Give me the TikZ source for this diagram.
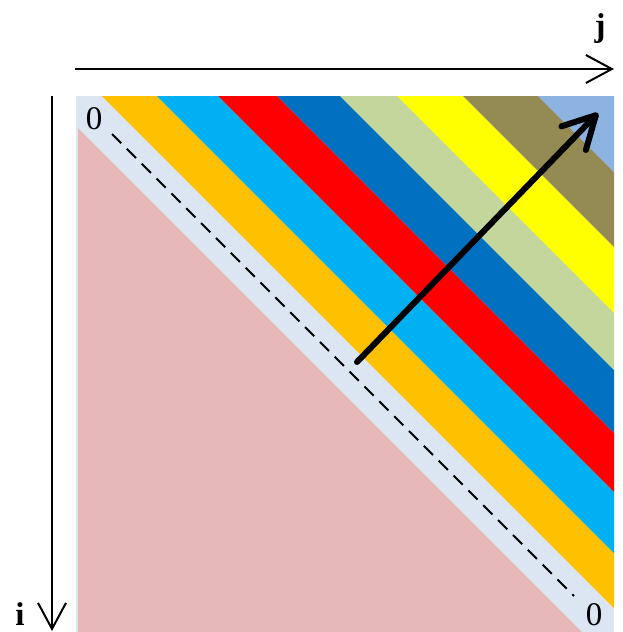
\documentclass[tikz,border=0pt]{standalone}
\usepackage{fontspec}
\setmainfont{Liberation Serif}
\usetikzlibrary{arrows.meta}
\definecolor{DiagBack}{HTML}{DCE6F2}
\definecolor{DiagPink}{HTML}{E6B9B8}
\definecolor{DiagOrange}{HTML}{FFC000}
\definecolor{DiagCyan}{HTML}{00B0F0}
\definecolor{DiagRed}{HTML}{FF0000}
\definecolor{DiagBlue}{HTML}{0070C0}
\definecolor{DiagGreen}{HTML}{C3D69B}
\definecolor{DiagYellow}{HTML}{FFFF00}
\definecolor{DiagOlive}{HTML}{948A54}
\definecolor{DiagSky}{HTML}{8DB3E2}

\begin{document}
\begin{tikzpicture}[
    x=1pt, y=-1pt,
    axis/.style={draw=black, line width=2pt, -{Straight Barb[length=26pt, width=28pt]}},
    sweep/.style={draw=black, line width=6pt, line cap=round, -{Straight Barb[length=32pt, width=34pt, round]}},
    zeroline/.style={draw=black, line width=1.8pt, dash pattern=on 13pt off 8pt},
    lbl/.style={font=\fontsize{33}{36}\selectfont, inner sep=0pt},
    idx/.style={lbl, font=\fontsize{33}{36}\selectfont\bfseries}
]
\useasboundingbox (0,0) rectangle (623,632);

\fill[DiagBack] (76,96) rectangle (614,634);
\begin{scope}
    \clip (76,96) rectangle (614,634);
    \foreach \da/\db/\col in {26/81/DiagOrange, 81/142/DiagCyan, 142/201/DiagRed,
            201/264/DiagBlue, 264/321/DiagGreen, 321/387/DiagYellow,
            387/462/DiagOlive, 462/620/DiagSky}
        \fill[\col] (76+\da,96) -- (76+\db,96) -- (614+\db,634) -- (614+\da,634) -- cycle;
\end{scope}
\fill[DiagPink] (78,128) -- (78,634) -- (584,634) -- cycle;

\coordinate (diag start) at (112,134);
\coordinate (diag end) at (574,596);
\draw[zeroline] (diag start) -- (diag end);

\coordinate (j start) at (75,69);
\coordinate (j end) at (614,69);
\coordinate (i start) at (52,96);
\coordinate (i end) at (52,631);
\draw[axis] (j start) -- (j end);
\draw[axis] (i start) -- (i end);

\coordinate (sweep start) at (357,362);
\coordinate (sweep end) at (598,113);
\draw[sweep] (sweep start) -- (sweep end);

\node[lbl] (zero top) at (94,119) {0};
\node[lbl] (zero bottom) at (594,615) {0};
\node[idx] (j label) at (600,29) {j};
\node[idx] (i label) at (20,614) {i};
\end{tikzpicture}
\end{document}
